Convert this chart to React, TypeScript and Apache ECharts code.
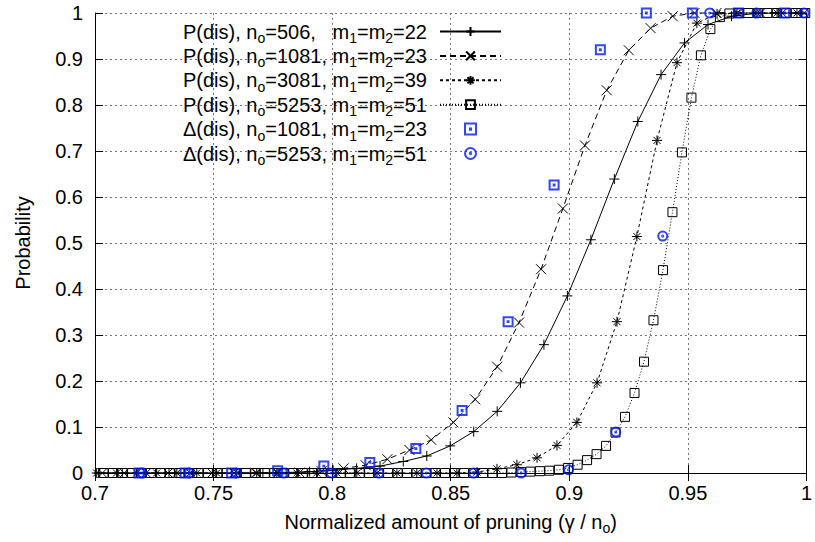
import React, { useEffect, useRef } from 'react';
import * as echarts from 'echarts';

const FONT = '"Liberation Sans", Arial, Helvetica, sans-serif';

// P(dis), n_o=506
const s1X = [0.7016, 0.7115, 0.7213, 0.7312, 0.7411, 0.7510, 0.7609, 0.7708, 0.7806, 0.7905, 0.8004, 0.8103, 0.8202, 0.8300, 0.8399, 0.8498, 0.8597, 0.8696, 0.8794, 0.8893, 0.8992, 0.9091, 0.9190, 0.9289, 0.9387, 0.9486, 0.9585, 0.9684, 0.9783, 0.9881, 0.9980];
const s1Y = [0, 0, 0, 0, 0, 0, 0, 0, 0.001, 0.003, 0.006, 0.010, 0.015, 0.025, 0.037, 0.059, 0.090, 0.134, 0.196, 0.279, 0.385, 0.507, 0.639, 0.764, 0.866, 0.935, 0.975, 0.993, 0.999, 1, 1];

// P(dis), n_o=1081
const s2X = [0.7031, 0.7123, 0.7216, 0.7308, 0.7401, 0.7493, 0.7586, 0.7678, 0.7771, 0.7863, 0.7956, 0.8048, 0.8141, 0.8233, 0.8326, 0.8418, 0.8511, 0.8603, 0.8696, 0.8788, 0.8881, 0.8973, 0.9066, 0.9158, 0.9251, 0.9343, 0.9436, 0.9528, 0.9621, 0.9713, 0.9806, 0.9898, 0.9991];
const s2Y = [0, 0, 0, 0, 0, 0, 0, 0, 0, 0.001, 0.004, 0.010, 0.017, 0.030, 0.050, 0.072, 0.110, 0.160, 0.231, 0.327, 0.443, 0.575, 0.712, 0.832, 0.919, 0.967, 0.993, 1, 1, 1, 1, 1, 1];

// P(dis), n_o=3081
const s3X = [0.7007, 0.7091, 0.7176, 0.7260, 0.7345, 0.7429, 0.7513, 0.7598, 0.7682, 0.7767, 0.7851, 0.7935, 0.8020, 0.8104, 0.8189, 0.8273, 0.8357, 0.8442, 0.8526, 0.8611, 0.8695, 0.8779, 0.8864, 0.8948, 0.9032, 0.9117, 0.9201, 0.9285, 0.9370, 0.9454, 0.9538, 0.9623, 0.9707, 0.9791, 0.9876, 0.9960];
const s3Y = [0, 0, 0, 0, 0, 0, 0, 0, 0, 0, 0, 0, 0, 0, 0, 0, 0, 0, 0, 0.002, 0.009, 0.018, 0.033, 0.060, 0.110, 0.196, 0.329, 0.514, 0.723, 0.892, 0.978, 0.998, 1, 1, 1, 1];

// P(dis), n_o=5253
const s4X = [0.7036, 0.7076, 0.7116, 0.7156, 0.7196, 0.7236, 0.7276, 0.7316, 0.7356, 0.7396,
  0.7436, 0.7476, 0.7516, 0.7556, 0.7596, 0.7636, 0.7676, 0.7716, 0.7756, 0.7796,
  0.7836, 0.7876, 0.7916, 0.7956, 0.7996, 0.8036, 0.8076, 0.8116, 0.8156, 0.8196,
  0.8236, 0.8276, 0.8316, 0.8356, 0.8396, 0.8436, 0.8476, 0.8516, 0.8556, 0.8596,
  0.8636, 0.8676, 0.8716, 0.8756, 0.8796, 0.8836, 0.8876, 0.8916, 0.8956, 0.8995,
  0.9035, 0.9075, 0.9115, 0.9155, 0.9195, 0.9235, 0.9275, 0.9315, 0.9355, 0.9395,
  0.9435, 0.9475, 0.9515, 0.9555, 0.9595, 0.9635, 0.9675, 0.9715, 0.9755, 0.9795,
  0.9835, 0.9875, 0.9915, 0.9955, 0.9995];
const s4Y = [0, 0, 0, 0, 0, 0, 0, 0, 0, 0,
  0, 0, 0, 0, 0, 0, 0, 0, 0, 0,
  0, 0, 0, 0, 0, 0, 0, 0, 0, 0,
  0, 0, 0, 0, 0, 0, 0, 0, 0, 0,
  0, 0, 0, 0.001, 0.002, 0.003, 0.004, 0.005, 0.007, 0.011,
  0.018, 0.028, 0.041, 0.059, 0.088, 0.122, 0.174, 0.242, 0.332, 0.441,
  0.567, 0.697, 0.816, 0.908, 0.965, 0.991, 0.999, 1, 1, 1,
  1, 1, 1, 1, 1];

// Δ(dis), n_o=1081
const d1X = [0.7186, 0.7380, 0.7576, 0.7770, 0.7965, 0.8159, 0.8353, 0.8548, 0.8742, 0.8936, 0.9131, 0.9325, 0.9519, 0.9713, 0.9908];
const d1Y = [0, 0, 0, 0.005, 0.015, 0.023, 0.053, 0.136, 0.329, 0.626, 0.920, 1, 1, 1, 1];

// Δ(dis), n_o=5253
const d2X = [0.7197, 0.7397, 0.7597, 0.7797, 0.7997, 0.8197, 0.8397, 0.8597, 0.8797, 0.8997, 0.9196, 0.9394, 0.9592, 0.9791, 0.9990];
const d2Y = [0, 0, 0, 0, 0, 0, 0, 0, 0, 0.007, 0.089, 0.515, 1, 1, 1];

const seriesNames = ['P506', 'P1081', 'P3081', 'P5253', 'D1081', 'D5253'];
const legendLabels: Record<string, string> = {
  P506: 'P(dis), n{s|o}=506,\u00a0\u00a0 m{s|1}=m{s|2}=22',
  P1081: 'P(dis), n{s|o}=1081, m{s|1}=m{s|2}=23',
  P3081: 'P(dis), n{s|o}=3081, m{s|1}=m{s|2}=39',
  P5253: 'P(dis), n{s|o}=5253, m{s|1}=m{s|2}=51',
  D1081: '\u0394(dis), n{s|o}=1081, m{s|1}=m{s|2}=23',
  D5253: '\u0394(dis), n{s|o}=5253, m{s|1}=m{s|2}=51',
};

const PLUS = 'path://M5,0L5,10M0,5L10,5';
const CROSS = 'path://M0,0L10,10M10,0L0,10';
const STAR = 'path://M5,0L5,10M0,5L10,5M1.5,1.5L8.5,8.5M8.5,1.5L1.5,8.5';
const BOX = 'path://M0,0L10,0L10,10L0,10Z';
const BOXDOT = 'path://M0,0L10,0L10,10L0,10Z M4.5,4.5L5.5,4.5L5.5,5.5L4.5,5.5Z';
const CIRCDOT = 'path://M10,5A5,5,0,1,1,0,5A5,5,0,1,1,10,5Z M5.6,5A0.6,0.6,0,1,1,4.4,5A0.6,0.6,0,1,1,5.6,5Z';

const BLUE = '#0018f0';
const zip = (xs: number[], ys: number[]) => xs.map((x, i) => [x, ys[i]]);

const SUB = { fontFamily: FONT, fontSize: 14, lineHeight: 6, verticalAlign: 'top', padding: [10, 0, 0, 0], color: '#000' };

function lineSeries(name: string, xs: number[], ys: number[], symbol: string, size: number, dash: any) {
  return {
    name,
    type: 'line',
    data: zip(xs, ys),
    symbol,
    symbolSize: size,
    showSymbol: true,
    clip: false,
    silent: true,
    lineStyle: { color: '#000', width: 1, type: dash },
    itemStyle: { color: 'rgba(0,0,0,0)', borderColor: '#000', borderWidth: 1 },
    z: 3,
  };
}

function scatterSeries(name: string, xs: number[], ys: number[], symbol: string, size: number) {
  return {
    name,
    type: 'scatter',
    data: zip(xs, ys),
    symbol,
    symbolSize: size,
    clip: false,
    silent: true,
    itemStyle: { color: 'rgba(0,0,0,0)', borderColor: BLUE, borderWidth: 2 },
    z: 5,
  };
}

const fmt = (v: number) => String(parseFloat(v.toFixed(2)));

const axisCommon = {
  axisLine: { show: true, lineStyle: { color: '#000', width: 1 } },
  axisTick: { show: true, inside: true, length: 8, lineStyle: { color: '#000', width: 1 } },
};

const option: any = {
  animation: false,
  backgroundColor: '#fff',
  textStyle: { fontFamily: FONT },
  grid: { left: 95, right: 6, top: 13, bottom: 69, containLabel: false },
  legend: {
    data: seriesNames,
    orient: 'vertical',
    left: 147,
    top: 21,
    padding: 0,
    itemGap: 0.4,
    itemWidth: 61,
    itemHeight: 11,
    align: 'right',
    selectedMode: false,
    formatter: (n: string) => legendLabels[n],
    textStyle: {
      fontFamily: FONT,
      fontSize: 20,
      color: '#000',
      width: 280,
      lineHeight: 21,
      padding: [0, 8, 0, 0],
      rich: { s: SUB },
    },
  },
  xAxis: [
    {
      type: 'value',
      position: 'bottom',
      min: 0.7,
      max: 1,
      interval: 0.05,
      ...axisCommon,
      axisLabel: { fontFamily: FONT, fontSize: 20, color: '#000', margin: 10, formatter: fmt },
      splitLine: { show: true, lineStyle: { color: '#777', type: [2, 3], width: 1 } },
      name: 'Normalized amount of pruning (\u03b3 / n{s|o})',
      nameLocation: 'middle',
      nameGap: 38,
      nameTextStyle: {
        fontFamily: FONT,
        fontSize: 20,
        color: '#000',
        lineHeight: 21,
        rich: { s: SUB },
      },
    },
    {
      type: 'value',
      position: 'top',
      min: 0.7,
      max: 1,
      interval: 0.05,
      ...axisCommon,
      axisLabel: { show: false },
      splitLine: { show: false },
    },
  ],
  yAxis: [
    {
      type: 'value',
      position: 'left',
      min: 0,
      max: 1,
      interval: 0.1,
      ...axisCommon,
      axisLabel: { fontFamily: FONT, fontSize: 20, color: '#000', margin: 12, formatter: fmt },
      splitLine: { show: true, lineStyle: { color: '#777', type: [2, 3], width: 1 } },
      name: 'Probability',
      nameLocation: 'middle',
      nameGap: 62,
      nameTextStyle: { fontFamily: FONT, fontSize: 20, color: '#000' },
    },
    {
      type: 'value',
      position: 'right',
      min: 0,
      max: 1,
      interval: 0.1,
      ...axisCommon,
      axisLabel: { show: false },
      splitLine: { show: false },
    },
  ],
  series: [
    lineSeries('P506', s1X, s1Y, PLUS, 10, 'solid'),
    lineSeries('P1081', s2X, s2Y, CROSS, 10, [6, 4]),
    lineSeries('P3081', s3X, s3Y, STAR, 10, [3, 3]),
    lineSeries('P5253', s4X, s4Y, BOX, 9, [1, 2]),
    scatterSeries('D1081', d1X, d1Y, BOXDOT, 9),
    scatterSeries('D5253', d2X, d2Y, CIRCDOT, 9),
  ],
};

export default function App() {
  const ref = useRef<HTMLDivElement>(null);
  useEffect(() => {
    const chart = echarts.init(ref.current!, null, { renderer: 'svg' });
    chart.setOption(option);
    return () => chart.dispose();
  }, []);
  return (
    <div
      ref={ref}
      style={{ position: 'fixed', left: 0, top: 0, width: 815, height: 542, background: '#fff' }}
    />
  );
}
